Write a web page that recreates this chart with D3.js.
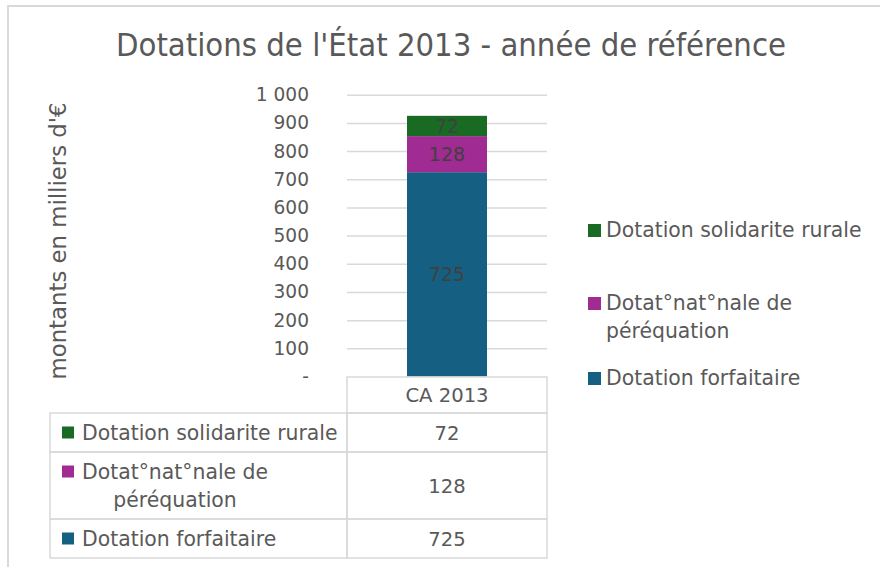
<!DOCTYPE html>
<html>
<head>
<meta charset="utf-8">
<script src="https://cdn.jsdelivr.net/npm/d3@7"></script>
<style>
  html, body { margin: 0; padding: 0; background: #fff; }
  svg { display: block; font-family: "DejaVu Sans", sans-serif; }
</style>
</head>
<body>
<div id="chart"></div>
<script>
// Stacked column with data table -- Dotations de l'État 2013

const categories = ['CA 2013'];
const seriesKeys = ['forfaitaire', 'perequation', 'solidarite'];
const forfaitaire = [725];
const perequation = [128];
const solidarite = [72];
const yTicks = [0, 100, 200, 300, 400, 500, 600, 700, 800, 900, 1000];

const colors = { forfaitaire: '#156082', perequation: '#A02B93', solidarite: '#196B24' };
const textGray = '#595959';
const gridGray = '#d9d9d9';

const width = 880, height = 567;

const svg = d3.select('#chart').append('svg')
  .attr('width', width)
  .attr('height', height);

// outer chart frame (cropped at right/bottom)
svg.append('path')
  .attr('d', 'M8,570 L8,6 L885,6')
  .attr('fill', 'none')
  .attr('stroke', gridGray)
  .attr('stroke-width', 2);

// Title
svg.append('text')
  .attr('x', 451)
  .attr('y', 56)
  .attr('text-anchor', 'middle')
  .attr('font-family', '"DejaVu Sans Condensed", sans-serif')
  .attr('font-size', 32.5)
  .attr('fill', textGray)
  .text("Dotations de l'État 2013 - année de référence");

const data = categories.map((c, i) => ({
  cat: c,
  forfaitaire: forfaitaire[i],
  perequation: perequation[i],
  solidarite: solidarite[i]
}));
const series = d3.stack().keys(seriesKeys)(data);

const plotLeft = 347, plotRight = 547;
const x = d3.scaleBand()
  .domain(categories)
  .range([plotLeft, plotRight])
  .padding(0.4286);

const y = d3.scaleLinear()
  .domain([0, 1000])
  .range([376.5, 94.7]);

// Grid lines
const grid = svg.append('g')
  .attr('transform', `translate(${plotLeft},0)`)
  .call(d3.axisLeft(y).tickValues(yTicks.slice(1)).tickSize(-(plotRight - plotLeft)).tickFormat(''));
grid.select('.domain').remove();
grid.selectAll('line').attr('stroke', gridGray).attr('stroke-width', 1.5);

// Y tick labels
const fmt = v => v === 0 ? '-' : d3.format(',')(v).replace(/,/g, '\u00a0');
const yAxis = svg.append('g')
  .attr('transform', 'translate(309,0)')
  .call(d3.axisLeft(y).tickValues(yTicks).tickSize(0).tickPadding(0).tickFormat(fmt));
yAxis.select('.domain').remove();
yAxis.selectAll('text')
  .attr('font-family', '"DejaVu Sans", sans-serif')
  .attr('font-size', 18.6)
  .attr('fill', textGray);

// Y axis title
svg.append('text')
  .attr('transform', 'translate(66,241) rotate(-90)')
  .attr('text-anchor', 'middle')
  .attr('font-size', 22.8)
  .attr('fill', textGray)
  .text("montants en milliers d'€");

// Bars
svg.selectAll('.series')
  .data(series)
  .join('g')
  .attr('class', 'series')
  .attr('fill', d => colors[d.key])
  .selectAll('rect')
  .data(d => d)
  .join('rect')
  .attr('x', d => x(d.data.cat))
  .attr('y', d => y(d[1]))
  .attr('width', x.bandwidth())
  .attr('height', d => y(d[0]) - y(d[1]));

// Data labels
series.forEach(s => {
  s.forEach(d => {
    svg.append('text')
      .attr('x', x(d.data.cat) + x.bandwidth() / 2)
      .attr('y', (y(d[0]) + y(d[1])) / 2 + 7)
      .attr('text-anchor', 'middle')
      .attr('font-size', 19)
      .attr('fill', '#404040')
      .text(d.data[s.key]);
  });
});

// Legend (right)
const legendRows = [
  { key: 'solidarite', lines: ['Dotation solidarite rurale'], y: 237 },
  { key: 'perequation', lines: ['Dotat°nat°nale de', 'péréquation'], y: 310 },
  { key: 'forfaitaire', lines: ['Dotation forfaitaire'], y: 385 }
];
const legend = svg.append('g');
legendRows.forEach(r => {
  legend.append('rect')
    .attr('x', 588).attr('y', r.y - 13)
    .attr('width', 13).attr('height', 13)
    .attr('fill', colors[r.key]);
  r.lines.forEach((ln, i) => {
    legend.append('text')
      .attr('x', 606).attr('y', r.y + i * 28)
      .attr('font-size', 20.4)
      .attr('fill', textGray)
      .text(ln);
  });
});

// Data table
const tableLeft = 50;
const headerTop = 377, headerBottom = 413;
const rowEdges = [413, 452, 519, 558];
const tableRows = [
  { key: 'solidarite', lines: ['Dotation solidarite rurale'], values: solidarite },
  { key: 'perequation', lines: ['Dotat°nat°nale de', 'péréquation'], values: perequation },
  { key: 'forfaitaire', lines: ['Dotation forfaitaire'], values: forfaitaire }
];
const table = svg.append('g').attr('fill', 'none').attr('stroke', gridGray).attr('stroke-width', 1.5);

// header cell
table.append('rect')
  .attr('x', plotLeft).attr('y', headerTop)
  .attr('width', plotRight - plotLeft).attr('height', headerBottom - headerTop);
categories.forEach(c => {
  svg.append('text')
    .attr('x', x(c) + x.bandwidth() / 2)
    .attr('y', (headerTop + headerBottom) / 2 + 7)
    .attr('text-anchor', 'middle')
    .attr('font-size', 19.6)
    .attr('fill', textGray)
    .text(c);
});

tableRows.forEach((r, i) => {
  const top = rowEdges[i], bottom = rowEdges[i + 1];
  const mid = (top + bottom) / 2;
  table.append('rect')
    .attr('x', tableLeft).attr('y', top)
    .attr('width', plotLeft - tableLeft).attr('height', bottom - top);
  table.append('rect')
    .attr('x', plotLeft).attr('y', top)
    .attr('width', plotRight - plotLeft).attr('height', bottom - top);

  const firstY = mid + 7 - (r.lines.length - 1) * 14;
  svg.append('rect')
    .attr('x', 62).attr('y', firstY - 13)
    .attr('width', 12).attr('height', 12)
    .attr('fill', colors[r.key]);
  const textX = 82;
  r.lines.forEach((ln, j) => {
    const t = svg.append('text')
      .attr('y', firstY + j * 28)
      .attr('font-size', 20.4)
      .attr('fill', textGray)
      .text(ln);
    if (j === 0) {
      t.attr('x', textX);
      r.firstW = t.node().getComputedTextLength();
    } else {
      t.attr('x', textX + r.firstW / 2).attr('text-anchor', 'middle');
    }
  });
  categories.forEach((c, k) => {
    svg.append('text')
      .attr('x', x(c) + x.bandwidth() / 2)
      .attr('y', mid + 7)
      .attr('text-anchor', 'middle')
      .attr('font-size', 19.6)
      .attr('fill', textGray)
      .text(r.values[k]);
  });
});
</script>
</body>
</html>
